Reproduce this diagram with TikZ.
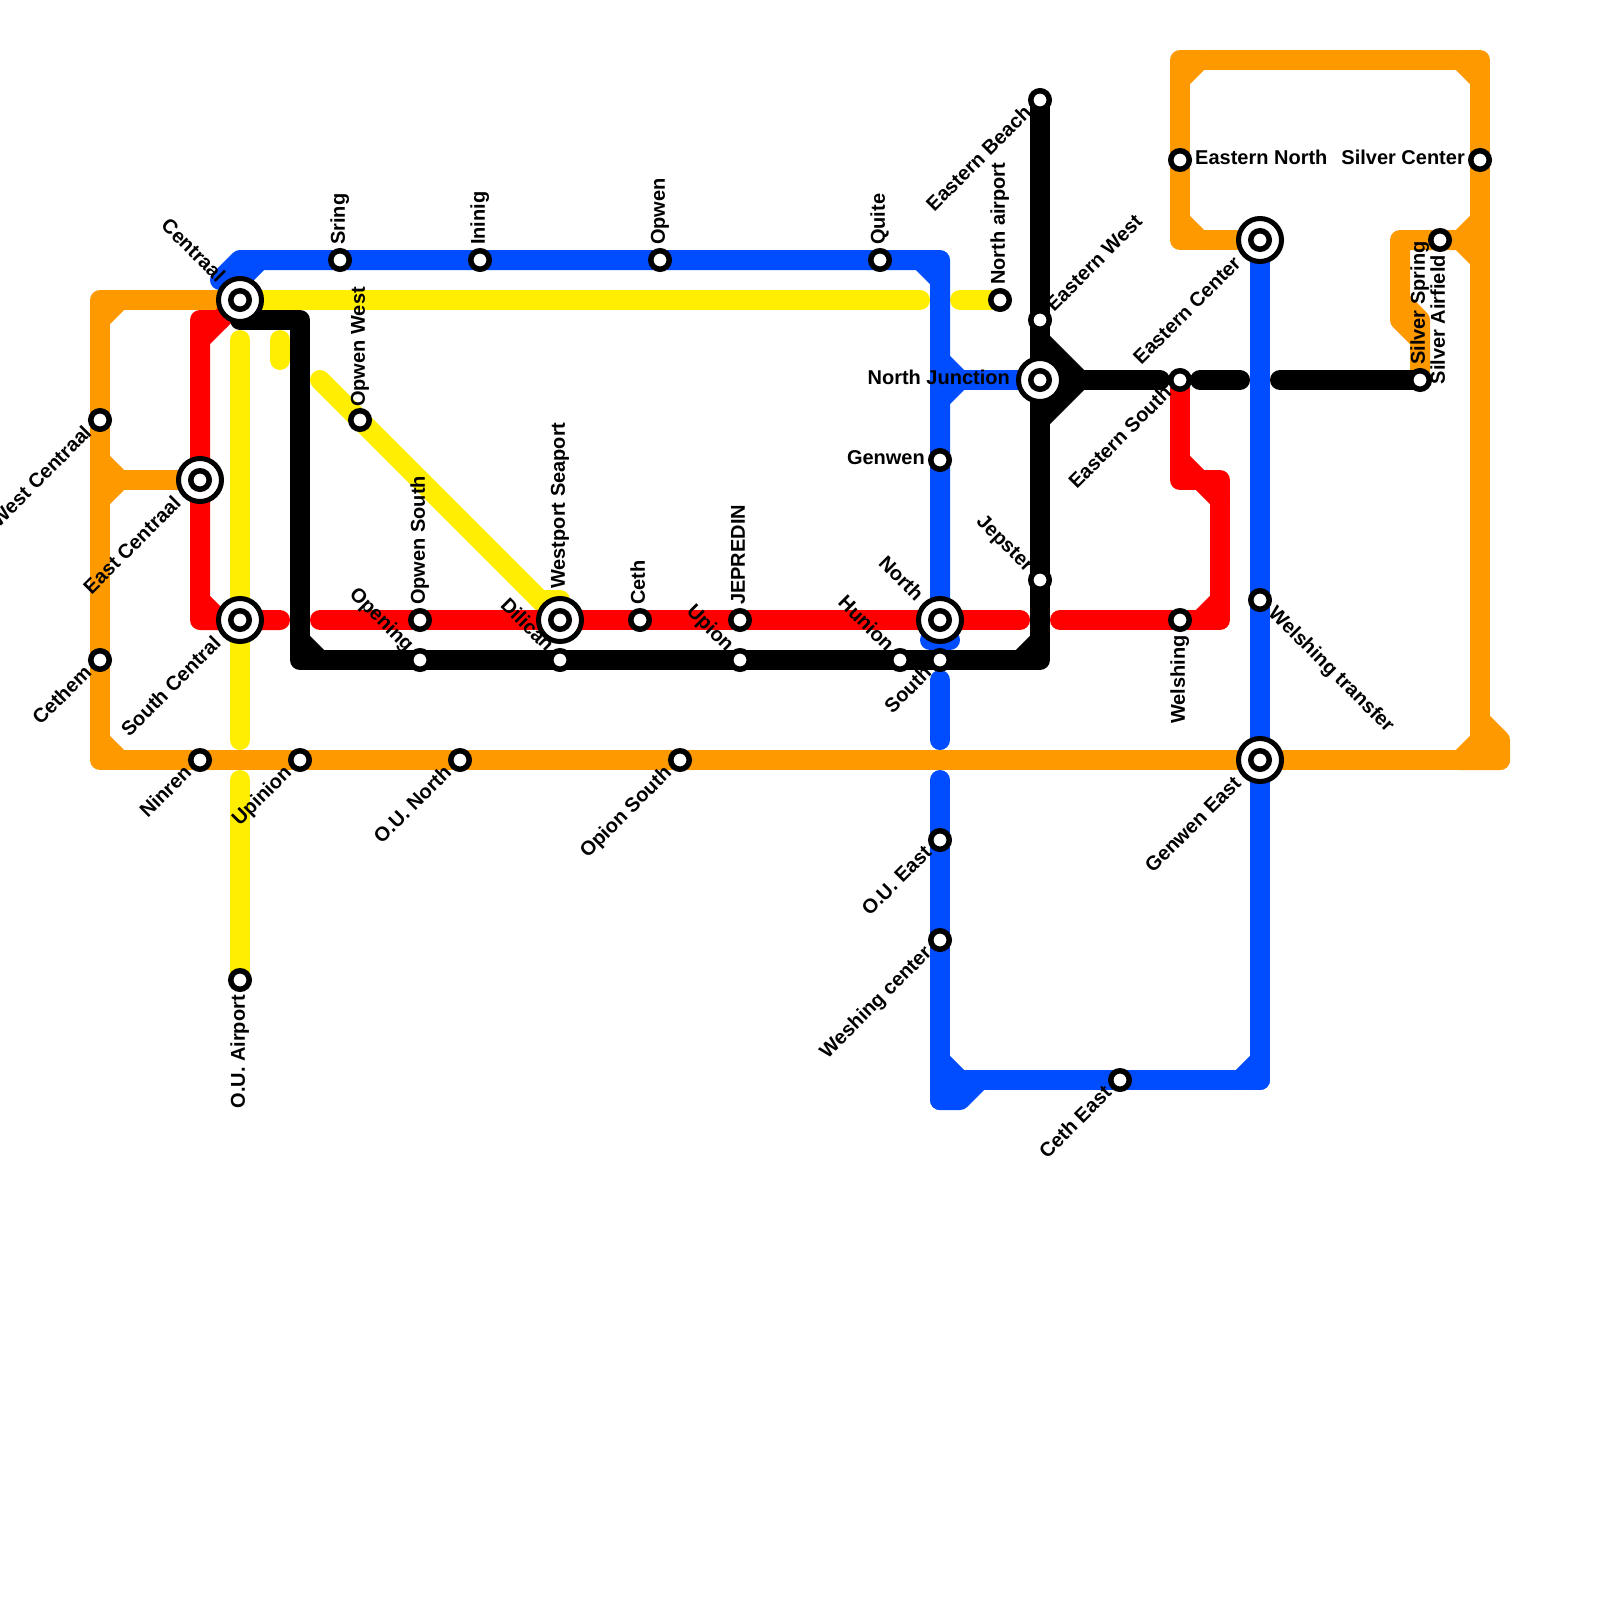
\documentclass[tikz,border=0pt]{standalone}
\usepackage{fontspec}
\setmainfont{Liberation Sans}
\usepackage{xcolor}
\usetikzlibrary{calc,backgrounds}
\definecolor{ornline}{HTML}{FF9900}
\definecolor{ylwline}{HTML}{FFEE00}
\definecolor{redline}{HTML}{FF0000}
\definecolor{bluline}{HTML}{004DFF}
\begin{document}
\begin{tikzpicture}[x=1pt,y=-1pt,
  font=\fontsize{20}{22}\selectfont\bfseries,
  stn/.style={circle, draw=black, fill=white, line width=5.5pt, inner sep=0pt, minimum size=18.5pt},
  xchg/.style={circle, draw=black, fill=white, line width=5pt, inner sep=0pt, minimum size=43pt},
  lbl/.style={inner sep=0pt, text=black, text height=15pt, text depth=5.5pt},
  lineseg/.style={line width=20pt, line cap=round, line join=round},
  orn/.style={lineseg, draw=ornline},
  ylw/.style={lineseg, draw=ylwline},
  red/.style={lineseg, draw=redline},
  blu/.style={lineseg, draw=bluline},
  blk/.style={lineseg, draw=black},
]
\useasboundingbox (0,0) rectangle (1600,1600);
% top of the map
\node[xchg] (centraal) at (240,300) {}; \node[stn] (centraalin) at (centraal) {};
\node[lbl,rotate=-45,anchor=east] (centraaltxt) at ($(centraal)+(135:28pt)$) {Centraal};
\node[stn] (sring) at (340,260) {};
\node[lbl,rotate=90,anchor=west] (sringtxt) at ($(sring)+(90:15pt)$) {Sring};
\node[stn] (ininig) at (480,260) {};
\node[lbl,rotate=90,anchor=west] (ininigtxt) at ($(ininig)+(90:15pt)$) {Ininig};
\node[stn] (opwen) at (660,260) {};
\node[lbl,rotate=90,anchor=west] (opwentxt) at ($(opwen)+(90:15pt)$) {Opwen};
\node[stn] (quite) at (880,260) {};
\node[lbl,rotate=90,anchor=west] (quitetxt) at ($(quite)+(90:15pt)$) {Quite};
\node[stn] (northair) at (1000,300) {};
\node[lbl,rotate=90,anchor=west] (northairtxt) at ($(northair)+(90:15pt)$) {North airport};
\node[stn] (opwenw) at (360,420) {};
\node[lbl,rotate=90,anchor=west] (opwenwtxt) at ($(opwenw)+(90:13pt)$) {Opwen West};
% left side
\node[stn] (westc) at (100,420) {};
\node[lbl,rotate=45,anchor=east] (westctxt) at ($(westc)+(225:15pt)$) {West Centraal};
\node[xchg] (eastc) at (200,480) {}; \node[stn] (eastcin) at (eastc) {};
\node[lbl,rotate=45,anchor=east] (eastctxt) at ($(eastc)+(225:30pt)$) {East Centraal};
\node[xchg] (southc) at (240,620) {}; \node[stn] (southcin) at (southc) {};
\node[lbl,rotate=45,anchor=east] (southctxt) at ($(southc)+(225:30pt)$) {South Central};
\node[stn] (cethem) at (100,660) {};
\node[lbl,rotate=45,anchor=east] (cethemtxt) at ($(cethem)+(225:15pt)$) {Cethem};
\node[stn] (ninren) at (200,760) {};
\node[lbl,rotate=45,anchor=east] (ninrentxt) at ($(ninren)+(225:15pt)$) {Ninren};
\node[stn] (upinion) at (300,760) {};
\node[lbl,rotate=45,anchor=east] (upiniontxt) at ($(upinion)+(225:15pt)$) {Upinion};
\node[stn] (ounorth) at (460,760) {};
\node[lbl,rotate=45,anchor=east] (ounorthtxt) at ($(ounorth)+(225:15pt)$) {O.U. North};
\node[stn] (opions) at (680,760) {};
\node[lbl,rotate=45,anchor=east] (opionstxt) at ($(opions)+(225:15pt)$) {Opion South};
\node[stn] (ouair) at (240,980) {};
\node[lbl,rotate=90,anchor=east] (ouairtxt) at ($(ouair)+(270:15pt)$) {O.U. Airport};
% middle row
\node[stn] (opwens) at (420,620) {};
\node[lbl,rotate=90,anchor=west] (opwenstxt) at ($(opwens)+(90:15pt)$) {Opwen South};
\node[stn] (opening) at (420,660) {};
\node[lbl,rotate=-45,anchor=east] (openingtxt) at ($(opening)+(135:15pt)$) {Opening};
\node[xchg] (westport) at (560,620) {}; \node[stn] (westportin) at (westport) {};
\node[lbl,rotate=90,anchor=west] (westporttxt) at ($(westport)+(90:31pt)$) {Westport Seaport};
\node[stn] (dilican) at (560,660) {};
\node[lbl,rotate=-45,anchor=east] (dilicantxt) at ($(dilican)+(135:15pt)$) {Dilican};
\node[stn] (ceth) at (640,620) {};
\node[lbl,rotate=90,anchor=west] (cethtxt) at ($(ceth)+(90:15pt)$) {Ceth};
\node[stn] (jepredin) at (740,620) {};
\node[lbl,rotate=90,anchor=west] (jepredintxt) at ($(jepredin)+(90:15pt)$) {JEPREDIN};
\node[stn] (upion) at (740,660) {};
\node[lbl,rotate=-45,anchor=east] (upiontxt) at ($(upion)+(135:15pt)$) {Upion};
\node[stn] (hunion) at (900,660) {};
\node[lbl,rotate=-45,anchor=east] (huniontxt) at ($(hunion)+(135:15pt)$) {Hunion};
\node[stn] (south) at (940,660) {};
\node[lbl,rotate=45,anchor=east] (southtxt) at ($(south)+(225:15pt)$) {South};
\node[xchg] (north) at (940,620) {}; \node[stn] (northin) at (north) {};
\node[lbl,rotate=-45,anchor=east] (northtxt) at ($(north)+(135:30pt)$) {North};
\node[stn] (genwen) at (940,460) {};
\node[lbl,anchor=east] (genwentxt) at ($(genwen)+(180:15pt)$) {Genwen};
\node[stn] (ouest) at (940,840) {};
\node[lbl,rotate=45,anchor=east] (ouesttxt) at ($(ouest)+(225:15pt)$) {O.U. East};
\node[stn] (weshing) at (940,940) {};
\node[lbl,rotate=45,anchor=east] (weshingtxt) at ($(weshing)+(225:15pt)$) {Weshing center};
\node[stn] (cethe) at (1120,1080) {};
\node[lbl,rotate=45,anchor=east] (cethetxt) at ($(cethe)+(225:15pt)$) {Ceth East};
% east side
\node[stn] (eastbeach) at (1040,100) {};
\node[lbl,rotate=45,anchor=east] (eastbeachtxt) at ($(eastbeach)+(225:15pt)$) {Eastern Beach};
\node[stn] (eastw) at (1040,320) {};
\node[lbl,rotate=45,anchor=west] (eastwtxt) at ($(eastw)+(45:15pt)$) {Eastern West};
\node[xchg] (northj) at (1040,380) {}; \node[stn] (northjin) at (northj) {};
\node[lbl,anchor=east] (northjtxt) at ($(northj)+(180:30pt)$) {North Junction};
\node[stn] (jepster) at (1040,580) {};
\node[lbl,rotate=-45,anchor=east] (jepstertxt) at ($(jepster)+(135:15pt)$) {Jepster};
\node[stn] (easts) at (1180,380) {};
\node[lbl,rotate=45,anchor=east] (eaststxt) at ($(easts)+(225:15pt)$) {Eastern South};
\node[stn] (eastn) at (1180,160) {};
\node[lbl,anchor=west] (eastntxt) at ($(eastn)+(0:15pt)$) {Eastern North};
\node[xchg] (eastcen) at (1260,240) {}; \node[stn] (eastcenin) at (eastcen) {};
\node[lbl,rotate=45,anchor=east] (eastcentxt) at ($(eastcen)+(225:30pt)$) {Eastern Center};
\node[stn] (welshtr) at (1260,600) {};
\node[lbl,rotate=-45,anchor=west] (welshtrtxt) at ($(welshtr)+(315:15pt)$) {Welshing transfer};
\node[xchg] (genwene) at (1260,760) {}; \node[stn] (genwenein) at (genwene) {};
\node[lbl,rotate=45,anchor=east] (genwenetxt) at ($(genwene)+(225:30pt)$) {Genwen East};
\node[stn] (welshing) at (1180,620) {};
\node[lbl,rotate=90,anchor=east] (welshingtxt) at ($(welshing)+(270:15pt)$) {Welshing};
\node[stn] (silverc) at (1480,160) {};
\node[lbl,anchor=east] (silverctxt) at ($(silverc)+(180:15pt)$) {Silver Center};
\node[stn] (silvera) at (1440,240) {};
\node[lbl,rotate=90,anchor=east] (silveratxt) at ($(silvera)+(270:15pt)$) {Silver Airfield};
\node[stn] (silvers) at (1420,380) {};
\node[lbl,rotate=90,anchor=west] (silverstxt) at ($(silvers)+(90:15pt)$) {Silver Spring};
% bends and free line ends
\coordinate (ornnw) at (100,300);
\coordinate (ornsw) at (100,760);
\coordinate (ornse) at (1500,760);
\coordinate (orntee) at (100,480);
\coordinate (orntl) at (1180,60);
\coordinate (orntr) at (1480,60);
\coordinate (ornbl) at (1180,240);
\coordinate (ornmr) at (1480,720);
\coordinate (ornjn) at (1480,240);
\coordinate (ornsp) at (1400,240);
\coordinate (ornsq) at (1400,320);
\coordinate (ornsr) at (1420,340);
\coordinate (ylwa) at (920,300);
\coordinate (ylwb) at (960,300);
\coordinate (ylwc) at (240,340);
\coordinate (ylwd) at (240,740);
\coordinate (ylwe) at (240,780);
\coordinate (ylwf) at (280,340);
\coordinate (ylwg) at (280,360);
\coordinate (ylwh) at (320,380);
\coordinate (ylwi) at (540,600);
\coordinate (ylwj) at (560,600);
\coordinate (redtl) at (200,320);
\coordinate (redtm) at (220,320);
\coordinate (redtn) at (200,340);
\coordinate (redbl) at (200,620);
\coordinate (redaa) at (280,620);
\coordinate (redab) at (320,620);
\coordinate (redac) at (1020,620);
\coordinate (redad) at (1060,620);
\coordinate (redbr) at (1220,620);
\coordinate (redtr) at (1220,480);
\coordinate (redsq) at (1180,480);
\coordinate (blutip) at (220,280);
\coordinate (blutl) at (240,260);
\coordinate (blutr) at (940,260);
\coordinate (bluj) at (940,380);
\coordinate (blua) at (940,680);
\coordinate (blub) at (940,740);
\coordinate (bluc) at (940,780);
\coordinate (blusw) at (940,1100);
\coordinate (blubr) at (1260,1080);
\coordinate (blublob) at (940,640);
\coordinate (blkst) at (240,320);
\coordinate (blktr) at (300,320);
\coordinate (blkbl) at (300,660);
\coordinate (blkbr) at (1040,660);
\coordinate (blkj) at (1080,380);
\coordinate (blka) at (1160,380);
\coordinate (blkb) at (1200,380);
\coordinate (blkc) at (1240,380);
\coordinate (blkd) at (1280,380);
\begin{scope}[on background layer]
% orange
\draw[orn] (centraal.center) -- (ornnw) -- (ornsw) -- (ornse);
\draw[orn] (ornnw) +(0,20) -- +(20,0);
\draw[orn] (ornsw) +(0,-20) -- +(20,0);
\draw[orn] (orntee) -- (eastc.center);
\draw[orn] (orntee) +(0,-20) -- +(20,0) -- +(0,20);
\draw[orn, fill=ornline] (ornmr) -- +(20,20) -- (ornse) -- +(-40,0) -- +(-20,-20) -- cycle;
\draw[orn] (ornmr) -- (orntr) -- (orntl) -- (ornbl) -- (eastcen.center);
\draw[orn] (orntl) +(0,20) -- +(20,0);
\draw[orn] (orntr) +(-20,0) -- +(0,20);
\draw[orn] (ornbl) +(0,-20) -- +(20,0);
\draw[orn] (ornjn) -- (ornsp) -- (ornsq) -- (ornsr) -- (silvers.center);
\draw[orn] (ornjn) +(0,-20) -- +(-20,0) -- +(0,20);
\draw[orn] (ornsq) +(0,-20) -- +(20,0) -- +(20,20);
% yellow
\draw[ylw] (centraal.center) -- (ylwa);
\draw[ylw] (ylwb) -- (northair.center);
\draw[ylw] (ylwc) -- (ylwd);
\draw[ylw] (ylwe) -- (ouair.center);
\draw[ylw] (ylwf) -- (ylwg);
\draw[ylw] (ylwh) -- (ylwi) -- (ylwj) -- (westport.center);
\draw[ylw] (ylwi) -- (westport.center);
% red
\draw[red] (centraal.center) -- (redtn) -- (redbl) -- (redaa);
\draw[red] (redtm) -- (redtl) -- (redtn);
\draw[red] (redbl) +(0,-20) -- +(20,0);
\draw[red] (redab) -- (redac);
\draw[red] (redad) -- (redbr) -- (redtr) -- (redsq) -- (easts.center);
\draw[red] (redbr) +(-20,0) -- +(0,-20);
\draw[red] (redtr) +(-20,0) -- +(0,20);
\draw[red] (redsq) +(0,-20) -- +(20,0);
% blue
\draw[blu] (blutip) -- (blutl) -- (blutr) -- (north.center);
\draw[blu] (centraal.center) ++(0,-20) -- ++(20,-20);
\draw[blu] (blutr) +(-20,0) -- +(0,20);
\draw[blu] (bluj) -- (northj.center);
\draw[blu] (bluj) +(0,-20) -- +(20,0) -- +(0,20);
\draw[blu] (blublob) +(-10,0) -- +(10,0);
\draw[blu] (blua) -- (blub);
\draw[blu] (bluc) -- (blusw);
\draw[blu, fill=bluline] (blusw) -- +(0,-40) -- +(20,-20) -- +(40,-20) -- +(20,0) -- cycle;
\draw[blu] (blubr) -- (genwene.center) -- (eastcen.center);
\draw[blu] (blubr) -- (cethe.center) -- +(-160,0);
\draw[blu] (blubr) +(-20,0) -- +(0,-20);
% black
\draw[blk] (blkst) -- (blktr) -- (blkbl) -- (blkbr) -- (eastbeach.center);
\draw[blk] (blkbl) +(0,-20) -- +(20,0);
\draw[blk] (blkbr) +(-20,0) -- +(0,-20);
\draw[blk] (northj.center) -- (blka);
\draw[blk, fill=black] (blkj) -- (1040,340) -- (1040,420) -- cycle;
\draw[blk] (blkb) -- (blkc);
\draw[blk] (blkd) -- (silvers.center);
\end{scope}
\end{tikzpicture}
\end{document}
